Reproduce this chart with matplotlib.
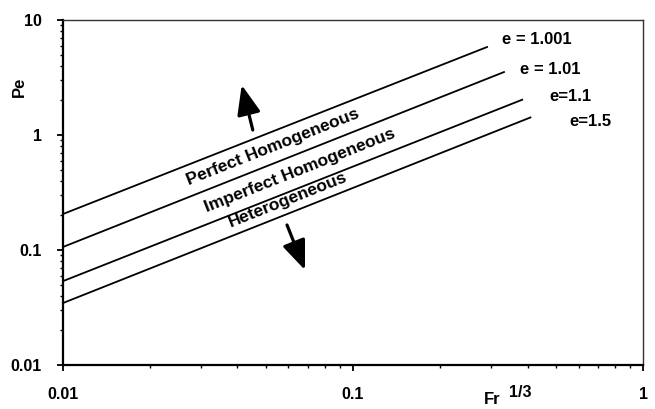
import matplotlib
matplotlib.use("Agg")
import matplotlib.pyplot as plt
import numpy as np

plt.rcParams['font.family'] = ['Liberation Sans', 'DejaVu Sans']
plt.rcParams['font.weight'] = 'bold'

# Data (x = Fr^1/3, y = Pe), straight lines on log-log axes
x_start = [0.01, 0.01, 0.01, 0.01]
x_end = [0.292, 0.334, 0.386, 0.412]
pe_start = [0.205, 0.106, 0.0535, 0.0345]
pe_end = [5.86, 3.55, 2.04, 1.43]
series_labels = ["e = 1.001", "e = 1.01", "e=1.1", "e=1.5"]
label_x = [0.326, 0.378, 0.477, 0.559]
label_y = [6.80, 3.73, 2.15, 1.31]

region_labels = ["Perfect Homogeneous", "Imperfect Homogeneous", "Heterogeneous"]
region_x = [0.053, 0.0657, 0.0596]
region_y = [0.786, 0.496, 0.272]

x_ticks = [0.01, 0.1, 1]
x_ticklabels = ["0.01", "0.1", "1"]
y_ticks = [0.01, 0.1, 1, 10]
y_ticklabels = ["0.01", "0.1", "1", "10"]

W, H = 655, 409
fig = plt.figure(figsize=(W / 100, H / 100), dpi=100)
ax = fig.add_axes([62.7 / W, 1 - 365 / H, (643 - 62.7) / W, (365 - 20) / H])
ax.set_xscale('log')
ax.set_yscale('log')
ax.set_xlim(0.01, 1)
ax.set_ylim(0.01, 10)

for xs, xe, ys, ye in zip(x_start, x_end, pe_start, pe_end):
    ax.plot([xs, xe], [ys, ye], color='black', lw=1.3, solid_capstyle='butt')

for lab, lx, ly in zip(series_labels, label_x, label_y):
    ax.text(lx, ly, lab, ha='left', va='center', fontsize=12, fontweight='bold')

# rotation matching line slope on screen
p0 = ax.transData.transform((0.01, 0.1))
p1 = ax.transData.transform((0.1, 1.0))
angle = np.degrees(np.arctan2(p1[1] - p0[1], p1[0] - p0[0]))
for lab, rx, ry in zip(region_labels, region_x, region_y):
    ax.text(rx, ry, lab, ha='center', va='center', rotation=angle,
            rotation_mode='anchor', fontsize=12.5, fontweight='bold')

arrow_kw = dict(arrowstyle='-|>,head_length=0.9,head_width=0.36',
                mutation_scale=20, lw=2.3, color='black', shrinkA=0, shrinkB=0)
ax.annotate('', xy=(0.0414, 2.72), xytext=(0.0452, 1.105), arrowprops=arrow_kw)
ax.annotate('', xy=(0.0684, 0.067), xytext=(0.0593, 0.165), arrowprops=arrow_kw)

ax.set_xticks(x_ticks)
ax.set_xticklabels(x_ticklabels)
ax.set_yticks(y_ticks)
ax.set_yticklabels(y_ticklabels)
ax.tick_params(which='major', direction='out', length=4.5, width=1.3,
               labelsize=11.5, top=False, right=False)
ax.tick_params(axis='x', which='major', pad=11.3)
ax.tick_params(axis='y', which='major', pad=10.6)
ax.tick_params(which='minor', direction='out', length=2.2, width=1.0,
               top=False, right=False)
for t in ax.get_xticklabels() + ax.get_yticklabels():
    t.set_fontweight('bold')

for s in ['left', 'bottom']:
    ax.spines[s].set_linewidth(1.6)
for s in ['top', 'right']:
    ax.spines[s].set_linewidth(1.0)
    ax.spines[s].set_color('#333333')

fig.text(19.5 / W, 1 - 87 / H, "Pe", rotation=90, ha='center', va='center',
         fontsize=12, fontweight='bold')
fig.text(492.5 / W, 1 - 399 / H, "Fr", ha='center', va='center',
         fontsize=12, fontweight='bold')
fig.text(520.5 / W, 1 - 392.5 / H, "1/3", ha='center', va='center',
         fontsize=11.5, fontweight='bold')

fig.savefig("out.png", dpi=100)
